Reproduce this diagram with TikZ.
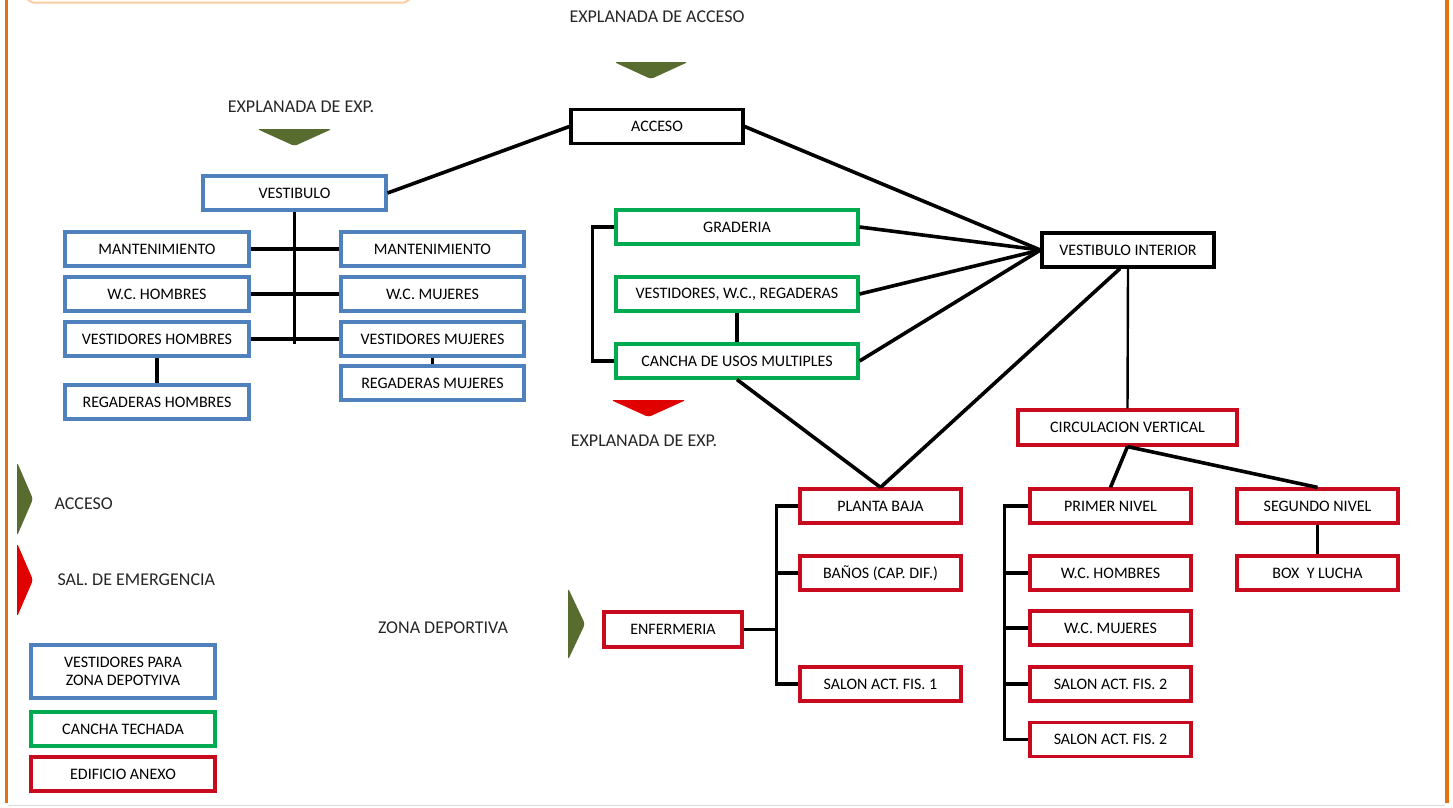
\documentclass[tikz,border=0pt]{standalone}
\usepackage{fontspec}
\setmainfont{Carlito}
\usepackage{tikz}
\usetikzlibrary{positioning}

\definecolor{bordeorange}{RGB}{228,112,20}
\definecolor{bordelight}{RGB}{250,205,160}
\definecolor{cajablue}{RGB}{79,129,189}
\definecolor{cajagreen}{RGB}{0,170,80}
\definecolor{cajared}{RGB}{200,10,30}
\definecolor{flechagreen}{RGB}{88,108,48}
\definecolor{flechared}{RGB}{225,0,0}

\begin{document}
\begin{tikzpicture}[x=1pt,y=-1pt,
    caja/.style={draw, line width=3.2pt, minimum height=34pt, inner sep=0pt, text=black, font=\fontsize{16}{18}\selectfont},
    azul/.style={caja, draw=cajablue, minimum width=183pt},
    verde/.style={caja, draw=cajagreen, minimum width=242pt},
    rojo/.style={caja, draw=cajared, minimum width=161pt},
    negro/.style={caja, draw=black, minimum width=172pt},
    link/.style={line width=3.6pt},
    rotulo/.style={font=\fontsize{18}{20}\selectfont, text=black!85}]
    \useasboundingbox (0,0) rectangle (1453,807);
    % marco
    \draw[bordeorange, line width=3.5pt] (6.5,0) -- (6.5,803);
    \draw[bordeorange, line width=3.5pt] (1447,0) -- (1447,803);
    \draw[black!15, line width=1pt] (8,805) -- (1445,805);
    \draw[bordelight, line width=2pt] (27,0) to[out=90,in=180] (33,2.5) -- (404,2.5) to[out=0,in=90] (410,0);

    % acceso
    \node[rotulo] (explAcc) at (657,17) {EXPLANADA DE ACCESO};
    \fill[flechagreen, rounded corners=3pt] (614,62) -- (688,62) -- (651,79) -- cycle;
    \node[negro] (acceso) at (657,126.5) {ACCESO};

    % vestidores
    \node[rotulo] (explExp) at (301,107) {EXPLANADA DE EXP.};
    \fill[flechagreen, rounded corners=3pt] (257,129) -- (332,129) -- (294.5,146) -- cycle;
    \node[azul] (vest) at (294.5,193) {VESTIBULO};
    \node[azul, minimum width=184pt] (mantH) at (157,249) {MANTENIMIENTO};
    \node[azul, minimum width=184pt] (wcH) at (157,294) {W.C. HOMBRES};
    \node[azul, minimum width=184pt] (vestH) at (157,339) {VESTIDORES HOMBRES};
    \node[azul, minimum width=184pt] (regH) at (157,402) {REGADERAS HOMBRES};
    \node[azul] (mantM) at (432.5,249) {MANTENIMIENTO};
    \node[azul] (wcM) at (432.5,294) {W.C. MUJERES};
    \node[azul] (vestM) at (432.5,339) {VESTIDORES MUJERES};
    \node[azul] (regM) at (432.5,383) {REGADERAS MUJERES};
    \draw[link] (vest.south) -- (294.5,344);
    \draw[link] (mantH.east) -- (mantM.west);
    \draw[link] (wcH.east) -- (wcM.west);
    \draw[link] (vestH.east) -- (vestM.west);
    \draw[link] (vestH) -- (regH);
    \draw[link] (vestM) -- (regM);

    % cancha techada
    \node[verde] (grad) at (737,227) {GRADERIA};
    \node[verde] (vwc) at (737,294) {VESTIDORES, W.C., REGADERAS};
    \node[verde] (cancha) at (737,361) {CANCHA DE USOS MULTIPLES};
    \draw[link] (grad.west) -- ++(-22,0) |- (cancha.west);
    \draw[link] (vwc) -- (cancha);
    \fill[flechared, rounded corners=3pt] (611,400) -- (686,400) -- (648.5,417) -- cycle;
    \node[rotulo] (explExp2) at (644,441) {EXPLANADA DE EXP.};

    % vestibulo interior
    \node[negro] (vint) at (1128,250) {VESTIBULO INTERIOR};
    \draw[link] (acceso.west) -- (vest.east);
    \draw[link] (acceso.east) -- (vint.west);
    \draw[link] (grad.east) -- (vint.west);
    \draw[link] (vwc.east) -- (vint.west);
    \draw[link] (cancha.east) -- (vint.west);

    % edificio anexo
    \node[rojo, minimum width=219pt, minimum height=35pt] (circ) at (1127.5,427.5) {CIRCULACION VERTICAL};
    \node[rojo] (pbaja) at (880.5,506) {PLANTA BAJA};
    \node[rojo] (banos) at (880.5,573) {BAÑOS (CAP. DIF.)};
    \node[rojo] (sal1) at (880.5,684) {SALON ACT. FIS. 1};
    \node[rojo, minimum width=138pt, minimum height=35pt] (enf) at (673,629.5) {ENFERMERIA};
    \node[rojo] (pnivel) at (1110.5,506) {PRIMER NIVEL};
    \node[rojo] (wcH2) at (1110.5,573) {W.C. HOMBRES};
    \node[rojo] (wcM2) at (1110.5,628) {W.C. MUJERES};
    \node[rojo] (sal2a) at (1110.5,684) {SALON ACT. FIS. 2};
    \node[rojo] (sal2b) at (1110.5,739.5) {SALON ACT. FIS. 2};
    \node[rojo] (snivel) at (1317.5,506) {SEGUNDO NIVEL};
    \node[rojo] (box) at (1317.5,573) {BOX~~Y LUCHA};
    \draw[line width=2.4pt] (vint.south) -- (circ.north);
    \draw[link] ([xshift=-8pt]vint.south) -- (pbaja.north);
    \draw[link] (cancha.south) -- (pbaja.north);
    \draw[link] (circ.south) -- (pnivel.north);
    \draw[link] (circ.south) -- (snivel.north);
    \draw[link] (snivel) -- (box);
    \draw[link] (pbaja.west) -- ++(-22,0) coordinate (pbk) |- (sal1.west);
    \draw[link] (banos.west) -- (banos.west -| pbk);
    \draw[link] (enf.east) -- (enf.east -| pbk);
    \draw[link] (pnivel.west) -- ++(-24,0) coordinate (pnk) |- (sal2b.west);
    \draw[link] (wcH2.west) -- (wcH2.west -| pnk);
    \draw[link] (wcM2.west) -- (wcM2.west -| pnk);
    \draw[link] (sal2a.west) -- (sal2a.west -| pnk);
    \node[rotulo] (zona) at (443,628) {ZONA DEPORTIVA};
    \fill[flechagreen, rounded corners=3pt] (568,588) -- (585,624) -- (568,660) -- cycle;

    % simbologia
    \fill[flechagreen, rounded corners=3pt] (17,462) -- (33,499) -- (17,536) -- cycle;
    \node[rotulo, anchor=west] (legAcc) at (51,504) {ACCESO};
    \fill[flechared, rounded corners=3pt] (17,543) -- (33,580) -- (17,617) -- cycle;
    \node[rotulo, anchor=west] (legSal) at (54,580) {SAL. DE EMERGENCIA};
    \node[azul, minimum width=184pt, minimum height=53pt, align=center] (legVest) at (123,671.5) {VESTIDORES PARA\\ZONA DEPOTYIVA};
    \node[verde, minimum width=184pt] (legCancha) at (123,729) {CANCHA TECHADA};
    \node[rojo, minimum width=184pt] (legAnexo) at (123,774) {EDIFICIO ANEXO};
  \end{tikzpicture}
\end{document}
